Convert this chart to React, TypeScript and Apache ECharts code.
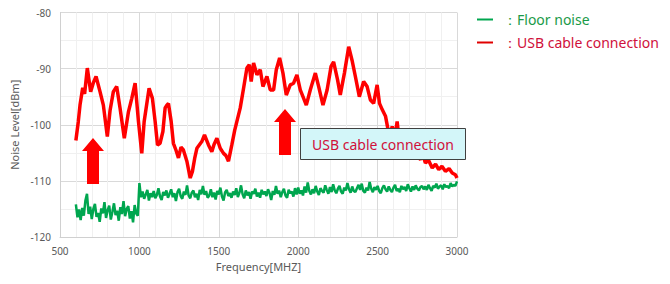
import React, { useEffect, useRef } from "react";
import * as echarts from "echarts";

const xTicks = [500, 1000, 1500, 2000, 2500, 3000];
const yTicks = [-120, -110, -100, -90, -80];

const floorStart = 600;
const floorStep = 10;
const floorLevel = [
  -114.2, -116.5, -115.1, -117.0, -114.8, -116.2, -113.5, -112.3, -115.9, -114.6,
  -116.8, -115.0, -114.1, -116.4, -115.7, -117.3, -114.9, -115.8, -113.8, -116.6,
  -115.2, -114.4, -116.9, -115.5, -114.0, -116.1, -115.3, -117.1, -114.7, -115.9,
  -113.6, -116.3, -115.0, -114.5, -116.7, -115.4, -117.4, -114.3, -115.8, -116.2,
  -110.4, -112.9, -111.9, -113.2, -112.4, -111.6, -113.5, -112.2, -112.9, -111.8,
  -113.1, -112.5, -111.3, -112.8, -113.4, -112.0, -112.6, -111.7, -113.0, -112.3,
  -111.5, -112.9, -112.2, -113.6, -112.0, -111.4, -112.7, -113.2, -111.9, -112.5,
  -110.8, -112.6, -113.1, -112.1, -111.7, -112.9, -112.3, -113.4, -111.6, -112.4,
  -110.9, -112.5, -111.8, -113.0, -112.6, -111.5, -112.9, -112.1, -113.3, -111.8,
  -112.4, -111.2, -112.8, -113.5, -112.0, -111.6, -112.7, -112.2, -113.0, -111.9,
  -112.5, -111.3, -112.9, -112.1, -110.8, -112.4, -113.1, -111.7, -112.6, -112.0,
  -113.2, -111.9, -112.3, -111.4, -112.8, -112.1, -113.0, -111.6, -112.4, -111.9,
  -112.7, -111.5, -112.2, -113.4, -111.8, -112.5, -110.9, -112.3, -111.7, -112.9,
  -112.0, -111.4, -112.6, -113.0, -111.6, -112.2, -111.9, -112.8, -111.3, -112.4,
  -111.2, -112.3, -111.7, -112.6, -111.0, -112.1, -110.3, -111.8, -112.4, -111.5,
  -112.2, -110.9, -111.9, -112.5, -111.3, -111.8, -112.1, -110.8, -111.6, -112.3,
  -111.1, -112.0, -110.6, -111.7, -112.2, -111.4, -110.9, -111.9, -112.3, -111.2,
  -111.7, -110.4, -111.5, -112.1, -111.0, -111.8, -112.0, -111.3, -110.7, -111.6,
  -110.5, -111.8, -112.1, -111.2, -111.7, -110.2, -111.4, -112.0, -111.1, -111.6,
  -110.9, -111.8, -112.2, -111.3, -110.8, -111.5, -111.9, -111.0, -111.6, -112.0,
  -111.2, -110.7, -111.8, -111.4, -112.0, -110.9, -111.5, -111.1, -111.8, -110.6,
  -111.3, -111.9, -111.0, -111.6, -110.8, -111.4, -111.7, -111.1, -110.9, -111.5,
  -111.0, -111.6, -110.7, -111.3, -111.8, -110.9, -111.2, -110.5, -111.4, -111.0,
  -110.8, -111.5, -110.6, -111.1, -110.9, -111.3, -110.4, -111.0, -110.7, -110.9,
  -110.1,
];

const usbFreq = [
  600, 615, 626, 643, 655, 672, 693, 710, 727, 752, 773, 798, 815, 836, 857, 878, 905, 931, 952, 973,
  994, 1015, 1030, 1061, 1082, 1099, 1114, 1130, 1148, 1162, 1173, 1183, 1200, 1214, 1230, 1246, 1262,
  1277, 1299, 1320, 1334, 1348, 1362, 1393, 1410, 1435, 1456, 1470, 1488, 1509, 1530, 1545, 1561, 1582,
  1600, 1614, 1635, 1656, 1677, 1692, 1704, 1719, 1740, 1761, 1778, 1803, 1824, 1845, 1862, 1883, 1904,
  1925, 1950, 1971, 1992, 2013, 2030, 2051, 2076, 2108, 2129, 2156, 2182, 2207, 2223, 2248, 2265, 2291,
  2318, 2339, 2360, 2385, 2412, 2434, 2455, 2475, 2497, 2512, 2529, 2550, 2564, 2580, 2592, 2610, 2623,
  2635, 2660, 2690, 2720, 2750, 2770, 2785, 2801, 2820, 2844, 2865, 2885, 2905, 2927, 2950, 2970, 2990,
  3000,
];
const usbLevel = [
  -102.8, -99.5, -96.5, -93.4, -94.5, -89.9, -94.1, -92.5, -91.4, -94.1, -96.5, -102.1, -97.5, -94.1,
  -93.2, -97.0, -102.4, -97.7, -95.3, -92.6, -99.4, -105.1, -99.4, -93.5, -95.3, -99.4, -103.6, -103.3,
  -101.2, -97.0, -96.5, -96.2, -99.4, -103.3, -104.5, -105.9, -104.0, -104.5, -106.5, -109.5, -108.3,
  -106.0, -104.2, -103.0, -101.8, -103.6, -104.8, -103.5, -102.4, -104.2, -105.1, -105.5, -106.5, -103.6,
  -101.0, -99.4, -97.0, -93.5, -89.9, -89.3, -92.3, -89.0, -91.1, -90.2, -93.2, -91.4, -93.8, -93.8,
  -90.2, -88.1, -90.8, -94.7, -92.9, -92.6, -91.1, -93.8, -95.0, -96.5, -93.8, -90.8, -93.2, -96.5,
  -93.8, -89.6, -88.8, -92.0, -94.7, -90.8, -86.1, -88.5, -91.4, -95.0, -92.3, -93.2, -95.6, -96.2,
  -92.9, -96.2, -97.3, -98.5, -100.6, -101.5, -100.3, -102.0, -99.4, -102.5, -103.0, -104.0, -104.8,
  -105.5, -106.2, -105.4, -106.8, -106.3, -107.7, -107.0, -108.0, -107.4, -108.3, -107.8, -108.6,
  -108.9, -109.5,
];

const legendItems = ["Floor noise", "USB cable connection"];
const annotationText = "USB cable connection";

const GREEN = "#00a64f";
const RED = "#ff0000";
const FONT = "Noto Sans";

export default function App() {
  const ref = useRef<HTMLDivElement>(null);
  useEffect(() => {
    document.body.style.margin = "0";
    const chart = echarts.init(ref.current!, null, { renderer: "svg" });
    const floorData = floorLevel.map((v, i) => [floorStart + i * floorStep, v]);
    const usbData = usbFreq.map((f, i) => [f, usbLevel[i]]);
    const arrow = (cx: number, tip: number, base: number, bottom: number) => ({
      type: "polygon",
      z: 100,
      shape: {
        points: [
          [cx, tip],
          [cx + 11, base],
          [cx + 6, base],
          [cx + 6, bottom],
          [cx - 6, bottom],
          [cx - 6, base],
          [cx - 11, base],
        ],
      },
      style: { fill: "#ff0000" },
    });
    chart.setOption({
      animation: false,
      grid: { left: 60, right: 213, top: 12.5, bottom: 47 },
      xAxis: {
        type: "value",
        min: xTicks[0],
        max: xTicks[xTicks.length - 1],
        interval: 500,
        name: "Frequency[MHZ]",
        nameLocation: "middle",
        nameGap: 24,
        nameTextStyle: { color: "#595959", fontSize: 11, fontFamily: FONT },
        axisLine: { show: true, lineStyle: { color: "#d0d0d0" } },
        axisTick: { show: false },
        axisLabel: {
          color: "#595959",
          fontSize: 10,
          fontFamily: FONT,
          margin: 9,
          formatter: (v: number) => String(v),
        },
        splitLine: { show: true, lineStyle: { color: "#d9d9d9" } },
        minorTick: { show: false, splitNumber: 5 },
        minorSplitLine: { show: true, lineStyle: { color: "#f0f0f0" } },
      },
      yAxis: {
        type: "value",
        min: yTicks[0],
        max: yTicks[yTicks.length - 1],
        interval: 10,
        name: "Noise Level[dBm]",
        nameLocation: "middle",
        nameGap: 32,
        nameTextStyle: { color: "#595959", fontSize: 11, fontFamily: FONT },
        axisLine: { show: true, lineStyle: { color: "#d0d0d0" } },
        axisTick: { show: false },
        axisLabel: { color: "#595959", fontSize: 10, fontFamily: FONT, margin: 9 },
        splitLine: { show: true, lineStyle: { color: "#d9d9d9" } },
        minorTick: { show: false, splitNumber: 2 },
        minorSplitLine: { show: true, lineStyle: { color: "#f0f0f0" } },
      },
      series: [
        {
          name: legendItems[0],
          type: "line",
          data: floorData,
          showSymbol: false,
          lineStyle: { color: GREEN, width: 2.5 },
          z: 3,
        },
        {
          name: legendItems[1],
          type: "line",
          data: usbData,
          showSymbol: false,
          lineStyle: { color: RED, width: 3.5 },
          z: 4,
        },
      ],
      graphic: [
        arrow(93, 138, 151, 184),
        arrow(285, 109, 122, 155),
        {
          type: "rect",
          z: 100,
          shape: { x: 300.5, y: 128.5, width: 165, height: 31 },
          style: { fill: "#d3f6f9", stroke: "#404040", lineWidth: 1 },
        },
        {
          type: "text",
          z: 101,
          x: 383,
          y: 144.5,
          style: {
            text: annotationText,
            fill: "#d0103a",
            font: `14px "${FONT}"`,
            align: "center",
            verticalAlign: "middle",
          },
        },
        {
          type: "line",
          shape: { x1: 477, y1: 19.5, x2: 493, y2: 19.5 },
          style: { stroke: GREEN, lineWidth: 2 },
        },
        {
          type: "text",
          x: 503,
          y: 19.5,
          style: {
            text: "：" + legendItems[0],
            fill: "#1a9a48",
            font: `14px "${FONT}"`,
            verticalAlign: "middle",
          },
        },
        {
          type: "line",
          shape: { x1: 477, y1: 42.5, x2: 493, y2: 42.5 },
          style: { stroke: "#e00000", lineWidth: 2 },
        },
        {
          type: "text",
          x: 503,
          y: 42.5,
          style: {
            text: "：" + legendItems[1],
            fill: "#d0103a",
            font: `14px "${FONT}"`,
            verticalAlign: "middle",
          },
        },
      ],
    });
    return () => chart.dispose();
  }, []);
  return <div ref={ref} style={{ width: 670, height: 284 }} />;
}
